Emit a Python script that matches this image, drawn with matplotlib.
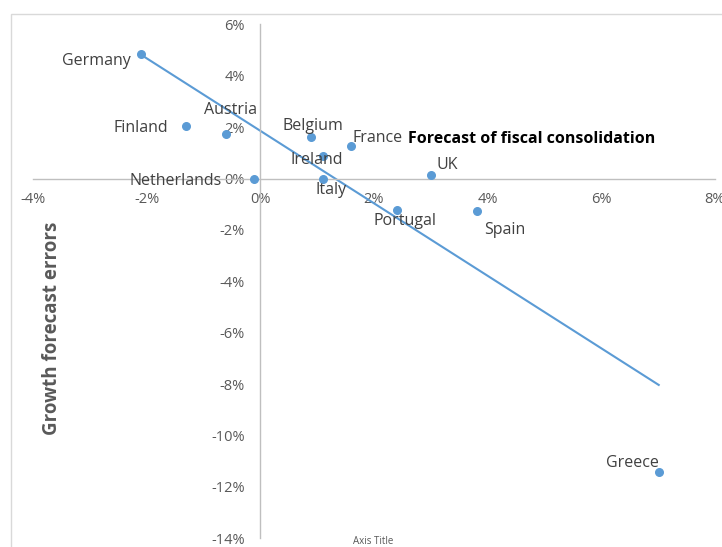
import matplotlib.pyplot as plt
import numpy as np
from matplotlib.patches import Rectangle
from matplotlib.ticker import FuncFormatter

plt.rcParams['font.family'] = ['Open Sans', 'DejaVu Sans']

countries = ['Germany', 'Finland', 'Austria', 'Netherlands', 'Belgium', 'Ireland',
             'Italy', 'France', 'UK', 'Portugal', 'Spain', 'Greece']
consolidation = [-2.10, -1.31, -0.60, -0.11, 0.90, 1.10, 1.10, 1.60, 3.00, 2.40, 3.81, 7.01]
forecast_err = [4.84, 2.04, 1.75, -0.03, 1.61, 0.88, 0.00, 1.27, 0.14, -1.21, -1.27, -11.41]

# label offsets in pixels (dx, dy) and alignment per country
label_pos = {
    'Germany': (-10, -7, 'right'),
    'Finland': (-18, -2, 'right'),
    'Austria': (4, 24, 'center'),
    'Netherlands': (-32, -2, 'right'),
    'Belgium': (2, 11, 'center'),
    'Ireland': (-6, -4, 'center'),
    'Italy': (8, -11, 'center'),
    'France': (1, 8, 'left'),
    'UK': (6, 10, 'left'),
    'Portugal': (8, -11, 'center'),
    'Spain': (7, -19, 'left'),
    'Greece': (0, 9, 'right'),
}

blue = '#5B9BD5'
grey_txt = '#595959'
axis_col = '#BFBFBF'

fig = plt.figure(figsize=(7.22, 5.47), dpi=100)
fig.patches.append(Rectangle((11 / 722, -0.1), 1.0, (547 - 14) / 547 + 0.1,
                             transform=fig.transFigure, fill=False,
                             edgecolor='#D9D9D9', lw=1))
ax = fig.add_axes([0.0456, 0.0159, 0.9447, 0.9395])

ax.set_xlim(-4, 8)
ax.set_ylim(-14, 6)
ax.set_xticks(np.arange(-4, 9, 2))
ax.set_yticks(np.arange(-14, 7, 2))
pct = FuncFormatter(lambda v, p: f'{v:.0f}%')
ax.xaxis.set_major_formatter(pct)
ax.yaxis.set_major_formatter(pct)

for side in ['top', 'right']:
    ax.spines[side].set_visible(False)
ax.spines['left'].set_position(('data', 0))
ax.spines['bottom'].set_position(('data', 0))
for side in ['left', 'bottom']:
    ax.spines[side].set_color(axis_col)
    ax.spines[side].set_linewidth(1)
ax.tick_params(axis='both', length=0, labelsize=10.5, labelcolor=grey_txt)
ax.tick_params(axis='x', pad=10)
ax.tick_params(axis='y', pad=11)
ax.patch.set_alpha(0)

# linear trend line
slope, icpt = np.polyfit(consolidation, forecast_err, 1)
xs = np.array([min(consolidation), max(consolidation)])
ax.plot(xs, slope * xs + icpt, color=blue, lw=1.5, zorder=2)

ax.scatter(consolidation, forecast_err, s=30, color=blue, zorder=3, clip_on=False)

for name, x, y in zip(countries, consolidation, forecast_err):
    dx, dy, ha = label_pos[name]
    ax.annotate(name, (x, y), xytext=(dx, dy), textcoords='offset pixels',
                ha=ha, va='center', fontsize=11.5, color='#404040')

fig.text(408 / 722, 1 - 139 / 547, 'Forecast of fiscal consolidation',
         ha='left', va='center', fontsize=11.5, fontweight='bold', color='black')
fig.text(52 / 722, 1 - 328 / 547, 'Growth forecast errors', rotation=90,
         ha='center', va='center', fontsize=13.5, fontweight='bold', color=grey_txt)
fig.text(373 / 722, 1 - 541 / 547, 'Axis Title', ha='center', va='center',
         fontsize=7, color=grey_txt)

fig.savefig('out.png', dpi=100)
